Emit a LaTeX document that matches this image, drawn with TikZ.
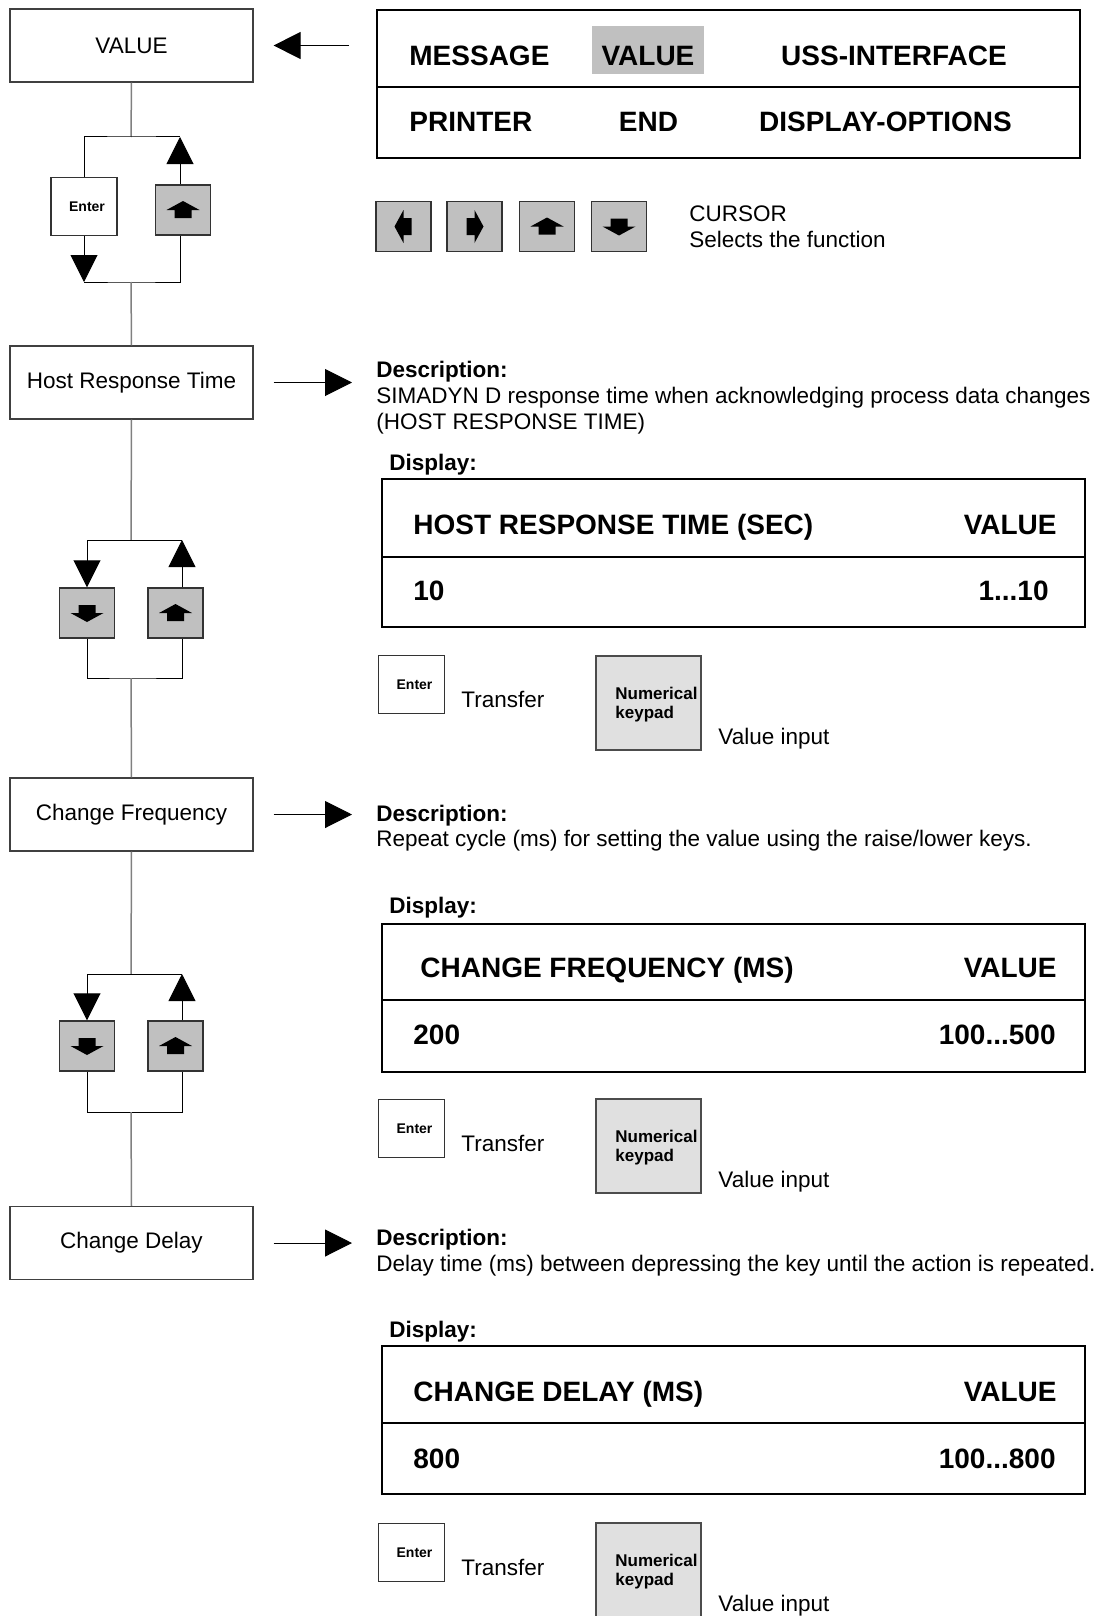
\documentclass[tikz,border=0pt]{standalone}
\usepackage{fontspec}
\setmainfont{Liberation Sans}
\usetikzlibrary{arrows.meta,calc}

\definecolor{keygray}{HTML}{C0C0C0}
\definecolor{padgray}{HTML}{E0E0E0}
\definecolor{trunkgray}{HTML}{808080}
\definecolor{boxline}{HTML}{404040}

\tikzset{
  stepbox/.style={draw=boxline, line width=0.6pt, minimum width=121.5pt, minimum height=36.5pt, inner sep=0pt, font=\fontsize{11.25}{13}\selectfont},
  keybox/.style={draw=black!80, fill=keygray, line width=0.75pt, minimum width=27.5pt, minimum height=25pt, inner sep=0pt},
  enterkey/.style={draw=black!80, fill=white, line width=0.6pt, minimum width=33pt, minimum height=29pt, inner sep=0pt, font=\bfseries\fontsize{7}{8}\selectfont},
  padkey/.style={draw=black!70, fill=padgray, line width=0.6pt, minimum width=52.5pt, minimum height=47pt, inner sep=0pt},
  screen/.style={draw=black, line width=1pt, minimum width=351.5pt, minimum height=74pt, inner sep=0pt},
  panel/.style={draw=black, line width=1pt},
  trunk/.style={draw=trunkgray, line width=0.75pt},
  flow/.style={draw=black, line width=0.5pt},
  bigarrow/.style={-{Triangle[length=13.5pt,width=13.5pt]}},
  txt/.style={anchor=base west, inner sep=0pt, font=\fontsize{11.25}{13}\selectfont},
  boldtxt/.style={txt, font=\bfseries\fontsize{11.25}{13}\selectfont},
  bigtxt/.style={anchor=base west, inner sep=0pt, font=\bfseries\fontsize{14}{16}\selectfont},
  padtxt/.style={anchor=base west, inner sep=0pt, font=\bfseries\fontsize{8.5}{10}\selectfont},
  keyglyph/.pic={\fill (0,-9) -- (16.5,0) -- (8.5,0) -- (8.5,8) -- (-8.5,8) -- (-8.5,0) -- (-16.5,0) -- cycle;}
}

\begin{document}
\begin{tikzpicture}[x=0.5pt,y=-0.5pt]

        \useasboundingbox (0,0) rectangle (1098,1616);
        \clip (0,0) rectangle (1098,1616);

        % Steps
        \node[stepbox] (value) at (131.5,45.5) {VALUE};
        \node[stepbox] (host) at (131.5,382.5) {Host Response Time};
        \node[stepbox] (freq) at (131.5,814.5) {Change Frequency};
        \node[stepbox] (delay) at (131.5,1243) {Change Delay};

        % Loop under VALUE
        \node[enterkey] (enter0) at (84,206.5) {\hspace*{3pt}Enter};
        \node[keybox] (up0) at (183,210) {};
        \pic at (up0) {keyglyph};
        \coordinate (t0) at (131,137);
        \coordinate (b0) at (131,282);
        \coordinate (r0) at (180,210);
        \draw[trunk] (value.south) -- (t0);
        \draw[flow] (enter0.north) |- (t0) -- (t0 -| r0);
        \draw[flow,bigarrow] (up0.north -| r0) -- (t0 -| r0);
        \draw[flow,bigarrow] (enter0.south) -- (b0 -| enter0.south);
        \draw[flow] (b0 -| enter0.south) -- (b0) -| (up0.south -| r0);
        \draw[trunk] (b0) -- (host.north);

        % Loop under host response time
        \node[keybox] (down1) at (87,613) {};
        \node[keybox] (up1) at (175.5,613) {};
        \pic[rotate=180] at (down1) {keyglyph};
        \pic at (up1) {keyglyph};
        \coordinate (t1) at (131,540);
        \coordinate (b1) at (131,678);
        \coordinate (r1) at (182,613);
        \draw[trunk] (host.south) -- (t1);
        \draw[flow,bigarrow] (t1) -| (down1.north);
        \draw[flow] (t1) -- (t1 -| r1);
        \draw[flow,bigarrow] (up1.north -| r1) -- (t1 -| r1);
        \draw[flow] (down1.south) |- (b1) -| (up1.south -| r1);
        \draw[trunk] (b1) -- (freq.north);

        % Loop under change frequency
        \node[keybox] (down2) at (87,1046) {};
        \node[keybox] (up2) at (175.5,1046) {};
        \pic[rotate=180] at (down2) {keyglyph};
        \pic at (up2) {keyglyph};
        \coordinate (t2) at (131,974);
        \coordinate (b2) at (131,1112);
        \coordinate (r2) at (182,1046);
        \draw[trunk] (freq.south) -- (t2);
        \draw[flow,bigarrow] (t2) -| (down2.north);
        \draw[flow] (t2) -- (t2 -| r2);
        \draw[flow,bigarrow] (up2.north -| r2) -- (t2 -| r2);
        \draw[flow] (down2.south) |- (b2) -| (up2.south -| r2);
        \draw[trunk] (b2) -- (delay.north);

        % Menu
        \node[screen] (menu) at (728.5,84) {};
        \draw[panel] (menu.west |- 0,87) -- (menu.east |- 0,87);
        \fill[keygray] (592,26) rectangle (704,74);
        \node[bigtxt] (message) at (409,66) {MESSAGE};
        \node[bigtxt,anchor=base] (valueitem) at (648,66) {VALUE};
        \node[bigtxt,anchor=base] (uss) at (894,66) {USS-INTERFACE};
        \node[bigtxt] (printer) at (409,132) {PRINTER};
        \node[bigtxt,anchor=base] (endname) at (648.5,132) {END};
        \node[bigtxt,anchor=base] (dispopt) at (885.5,132) {DISPLAY-OPTIONS};
        \draw[flow,bigarrow,shorten <=13.5pt,shorten >=10pt] (value.east -| menu.west) -- (value.east);

        % Cursor keys
        \node[keybox] (kleft) at (403.5,226.5) {};
        \node[keybox] (kright) at (474.5,226.5) {};
        \node[keybox] (kup) at (547,226.5) {};
        \node[keybox] (kdown) at (619,226.5) {};
        \pic[rotate=90] at (kleft) {keyglyph};
        \pic[rotate=-90] at (kright) {keyglyph};
        \pic at (kup) {keyglyph};
        \pic[rotate=180] at (kdown) {keyglyph};
        \node[txt] (cursor) at (689,221) {CURSOR};
        \node[txt] (selects) at (689,247) {Selects the function};

        % Host response time
        \node[boldtxt] (d1) at (376,377) {Description:};
        \node[txt] (d1a) at (376,403) {SIMADYN D response time when acknowledging process data changes};
        \node[txt] (d1b) at (376,429) {(HOST RESPONSE TIME)};
        \draw[flow,bigarrow,shorten <=10pt,shorten >=12pt] (host.east) -- (host.east -| d1.west);
        \node[boldtxt] (show1) at (389,470) {Display:};
        \node[screen] (disp1) at (733.5,553) {};
        \draw[panel] (disp1.west |- 0,557) -- (disp1.east |- 0,557);
        \node[bigtxt] (name1) at (413,534) {HOST RESPONSE TIME (SEC)};
        \node[bigtxt,anchor=base east] (head1) at (1057,534) {VALUE};
        \node[bigtxt] (val1) at (413,600) {10};
        \node[bigtxt,anchor=base east] (range1) at (1049,600) {1...10};
        \node[enterkey] (enter1) at (411.5,684.5) {\hspace*{3pt}Enter};
        \node[txt] (transfer1) at (461,707) {Transfer};
        \node[padkey] (pad1) at (648.5,703) {};
        \node[padtxt] (num1) at (615,699) {Numerical};
        \node[padtxt] (kp1) at (615,718) {keypad};
        \node[txt] (input1) at (718,744) {Value input};

        % Change frequency
        \node[boldtxt] (d2) at (376,821) {Description:};
        \node[txt] (d2a) at (376,846) {Repeat cycle (ms) for setting the value using the raise/lower keys.};
        \draw[flow,bigarrow,shorten <=10pt,shorten >=12pt] (freq.east) -- (freq.east -| d2.west);
        \node[boldtxt] (show2) at (389,913) {Display:};
        \node[screen] (disp2) at (733.5,997.5) {};
        \draw[panel] (disp2.west |- 0,1000) -- (disp2.east |- 0,1000);
        \node[bigtxt] (name2) at (420,977) {CHANGE FREQUENCY (MS)};
        \node[bigtxt,anchor=base east] (head2) at (1057,977) {VALUE};
        \node[bigtxt] (val2) at (413,1044) {200};
        \node[bigtxt,anchor=base east] (range2) at (1056,1044) {100...500};
        \node[enterkey] (enter2) at (411.5,1128.5) {\hspace*{3pt}Enter};
        \node[txt] (transfer2) at (461,1151) {Transfer};
        \node[padkey] (pad2) at (648.5,1146) {};
        \node[padtxt] (num2) at (615,1142) {Numerical};
        \node[padtxt] (kp2) at (615,1161) {keypad};
        \node[txt] (input2) at (718,1187) {Value input};

        % Change delay
        \node[boldtxt] (d3) at (376,1245) {Description:};
        \node[txt] (d3a) at (376,1271) {Delay time (ms) between depressing the key until the action is repeated.};
        \draw[flow,bigarrow,shorten <=10pt,shorten >=12pt] (delay.east) -- (delay.east -| d3.west);
        \node[boldtxt] (show3) at (389,1337) {Display:};
        \node[screen] (disp3) at (733.5,1420) {};
        \draw[panel] (disp3.west |- 0,1423) -- (disp3.east |- 0,1423);
        \node[bigtxt] (name3) at (413,1401) {CHANGE DELAY (MS)};
        \node[bigtxt,anchor=base east] (head3) at (1057,1401) {VALUE};
        \node[bigtxt] (val3) at (413,1468) {800};
        \node[bigtxt,anchor=base east] (range3) at (1056,1468) {100...800};
        \node[enterkey] (enter3) at (411.5,1552.5) {\hspace*{3pt}Enter};
        \node[txt] (transfer3) at (461,1575) {Transfer};
        \node[padkey] (pad3) at (648.5,1570) {};
        \node[padtxt] (num3) at (615,1566) {Numerical};
        \node[padtxt] (kp3) at (615,1585) {keypad};
        \node[txt] (input3) at (718,1611) {Value input};

    \end{tikzpicture}
\end{document}
